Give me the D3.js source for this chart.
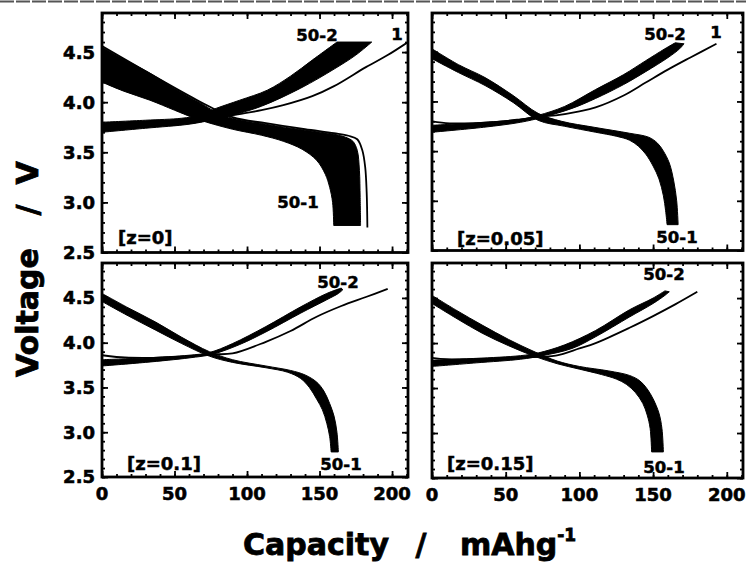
<!DOCTYPE html>
<html><head><meta charset="utf-8">
<script src="https://cdn.jsdelivr.net/npm/d3@7"></script>
<style>body{margin:0;background:#fff}svg{display:block}</style>
</head><body><svg id="c" width="746" height="571"></svg>
<script>
// ---------- tick values & labels ----------
const capacityTicks = [0, 50, 100, 150, 200];
const voltageTicks = [2.5, 3.0, 3.5, 4.0, 4.5];
const capacityMinor = d3.range(0, 211, 10);
const voltageMinor = d3.range(25, 49).map(d => d / 10);
const zLabels = ["[z=0]", "[z=0.05]", "[z=0.1]", "[z=0.15]"];
const cycleLabels = ["50-2", "50-1", "1"];

// ---------- z = 0 ----------  [capacity mAh/g, voltage V]
const z0_dis_c2 = [[0,4.55],[15,4.43],[33,4.29],[50,4.14],[67,4.00],[80,3.89],[90,3.84],[113,3.78],[140,3.72],[160,3.68],[168,3.65],[173,3.61],[176,3.52],[177.5,3.32],[178,3.05],[178.3,2.77]];
const z0_dis_c50 = [[0,4.20],[15,4.11],[33,4.02],[50,3.92],[62,3.85],[70,3.81],[90,3.73],[110,3.67],[125,3.61],[138,3.53],[148,3.42],[154,3.28],[157,3.15],[159,3.00],[159.8,2.77]];
const z0_dis_c1 = [[0,4.56],[67,4.01],[90,3.85],[113,3.79],[140,3.73],[160,3.69],[170,3.665],[176,3.63],[179.5,3.52],[181.5,3.35],[182.5,3.10],[183,2.75]];
const z0_chg_c50 = [[0,3.80],[30,3.82],[55,3.84],[67,3.87],[79,3.94],[95,4.02],[114,4.12],[130,4.26],[145,4.42],[162,4.60]];
const z0_chg_c2 = [[0,3.70],[30,3.74],[60,3.78],[75,3.82],[90,3.87],[110,3.96],[137,4.14],[160,4.33],[175,4.47],[186,4.60]];
const z0_chg_c1 = [[0,3.74],[60,3.79],[90,3.87],[110,3.92],[125,3.97],[145,4.06],[160,4.16],[182,4.35],[197,4.47],[211,4.60]];

// ---------- z = 0.05 ----------
const z05_dis_c2 = [[0,4.53],[18,4.37],[36,4.24],[55,4.06],[72,3.88],[88,3.80],[110,3.74],[134,3.68],[147,3.64],[153,3.58],[157,3.50],[161,3.38],[164,3.20],[166,3.00],[167,2.76]];
const z05_dis_c50 = [[0,4.43],[18,4.29],[36,4.16],[55,3.99],[72,3.81],[90,3.75],[111,3.69],[125,3.65],[134,3.61],[140,3.55],[145,3.47],[150,3.35],[154,3.22],[157,3.05],[158.5,2.90],[159.5,2.76]];
const z05_dis_c1 = [];
const z05_chg_c50 = [[0,3.76],[35,3.79],[60,3.82],[72,3.86],[90,3.95],[111,4.12],[130,4.27],[145,4.41],[158,4.53],[165,4.59]];
const z05_chg_c2 = [[0,3.69],[35,3.74],[60,3.79],[75,3.84],[95,3.93],[111,4.03],[130,4.17],[145,4.30],[160,4.44],[168,4.53],[171,4.58]];
const z05_chg_c1 = [[0,3.80],[12,3.78],[40,3.79],[60,3.82],[75,3.85],[84,3.86],[100,3.90],[111,3.94],[130,4.06],[145,4.19],[160,4.32],[175,4.44],[193,4.58]];

// ---------- z = 0.1 ----------
const z10_dis_c2 = [[0,4.55],[18,4.39],[37,4.23],[55,4.06],[74,3.90],[90,3.81],[113,3.74],[130,3.69],[140,3.64],[148,3.56],[153,3.46],[157,3.32],[160,3.18],[162,3.00],[163,2.78]];
const z10_dis_c50 = [[0,4.46],[18,4.30],[37,4.14],[55,3.99],[74,3.85],[90,3.78],[113,3.72],[128,3.67],[137,3.60],[143,3.50],[148,3.37],[152,3.25],[155,3.10],[157,2.95],[158,2.78]];
const z10_dis_c1 = [];
const z10_chg_c50 = [[0,3.81],[30,3.83],[60,3.86],[74,3.89],[90,3.99],[113,4.18],[137,4.40],[155,4.55],[165,4.61]];
const z10_chg_c2 = [[0,3.74],[30,3.78],[60,3.83],[76,3.87],[95,3.98],[113,4.12],[137,4.33],[155,4.48],[163,4.55],[166,4.59]];
const z10_chg_c1 = [[0,3.86],[10,3.84],[30,3.83],[60,3.85],[76,3.87],[90,3.88],[113,4.01],[130,4.13],[148,4.29],[165,4.41],[182,4.51],[197,4.60]];

// ---------- z = 0.15 ----------
const z15_dis_c2 = [[0,4.53],[17,4.36],[34,4.20],[52,4.04],[70,3.90],[85,3.80],[100,3.74],[120,3.69],[134,3.64],[141,3.58],[146,3.49],[150,3.38],[154,3.22],[156,3.05],[157,2.79]];
const z15_dis_c50 = [[0,4.44],[17,4.27],[34,4.11],[52,3.97],[70,3.85],[85,3.77],[100,3.71],[115,3.65],[125,3.60],[132,3.54],[138,3.45],[143,3.33],[146,3.20],[148,3.05],[149,2.79]];
const z15_dis_c1 = [];
const z15_chg_c50 = [[0,3.81],[30,3.83],[60,3.86],[72,3.89],[90,3.98],[111,4.14],[134,4.37],[150,4.50],[158,4.58]];
const z15_chg_c2 = [[0,3.74],[30,3.78],[60,3.82],[75,3.86],[95,3.94],[111,4.07],[134,4.29],[150,4.44],[158,4.53],[161,4.57]];
const z15_chg_c1 = [[0,3.835],[10,3.82],[30,3.82],[60,3.84],[84,3.86],[100,3.94],[111,4.00],[134,4.17],[150,4.30],[165,4.43],[180,4.57]];

// ---------- layout ----------
const FONT = "'DejaVu Sans', sans-serif";
const svg = d3.select("#c");
const capDomain = [0, 211];
const voltDomain = [2.5, 4.89];

const panels = [
  {z: zLabels[0], box: [102, 408, 13, 252.5], disA: z0_dis_c2, disB: z0_dis_c50, dis1: z0_dis_c1, chgA: z0_chg_c50, chgB: z0_chg_c2, chg1: z0_chg_c1,
   yLab: true, xLab: false, lab502: [215, 28], lab501: [196, 195], lab1: [295, 27], labZ: [16, 231]},
  {z: zLabels[1], box: [432, 743, 13, 250.5], disA: z05_dis_c2, disB: z05_dis_c50, dis1: z05_dis_c1, chgA: z05_chg_c50, chgB: z05_chg_c2, chg1: z05_chg_c1,
   yLab: false, xLab: false, lab502: [233, 27], lab501: [245, 230], lab1: [284, 25], labZ: [25, 232]},
  {z: zLabels[2], box: [102, 408, 263, 477], disA: z10_dis_c2, disB: z10_dis_c50, dis1: z10_dis_c1, chgA: z10_chg_c50, chgB: z10_chg_c2, chg1: z10_chg_c1,
   yLab: true, xLab: true, lab502: [236, 25], lab501: [239, 207], lab1: null, labZ: [25, 207]},
  {z: zLabels[3], box: [432, 743, 263, 478], disA: z15_dis_c2, disB: z15_dis_c50, dis1: z15_dis_c1, chgA: z15_chg_c50, chgB: z15_chg_c2, chg1: z15_chg_c1,
   yLab: false, xLab: true, lab502: [232, 17], lab501: [232, 210], lab1: null, labZ: [15, 207]}
];

// scan artefact line at the very top
svg.append("line").attr("x1", 0).attr("x2", 746).attr("y1", 1.5).attr("y2", 1.5)
  .attr("stroke", "#555").attr("stroke-width", 2).attr("stroke-dasharray", "14,2");

panels.forEach((p, i) => {
  const [L, R, T, B] = p.box;
  const x = d3.scaleLinear().domain(capDomain).range([L, R]);
  const y = d3.scaleLinear().domain(voltDomain).range([B, T]);
  const g = svg.append("g");
  const clipId = "clip" + i;
  g.append("clipPath").attr("id", clipId).append("rect")
    .attr("x", L).attr("y", T).attr("width", R - L).attr("height", B - T);
  const plot = g.append("g").attr("clip-path", `url(#${clipId})`);
  const line = d3.line().x(d => x(d[0])).y(d => y(d[1])).curve(d3.curveCatmullRom.alpha(0.5));
  const band = (a, b) => line(a) + "L" + line(b.slice().reverse()).slice(1) + "Z";

  // first-cycle thin lines (drawn under the bands)
  [p.chg1, p.dis1].forEach(c => {
    if (c.length) plot.append("path").attr("d", line(c)).attr("fill", "none")
      .attr("stroke", "#000").attr("stroke-width", 1.8);
  });
  // bands of cycles 2..50
  plot.append("path").attr("d", band(p.chgA, p.chgB)).attr("fill", "#000").attr("stroke", "#000").attr("stroke-width", 1);
  plot.append("path").attr("d", band(p.disA, p.disB)).attr("fill", "#000").attr("stroke", "#000").attr("stroke-width", 1);

  // ticks (inward, all four sides)
  const mk = (axis, vals, size, tr) => {
    const a = g.append("g").attr("transform", tr)
      .call(axis.tickValues(vals).tickSize(-size).tickFormat(""));
    a.select(".domain").remove();
    a.selectAll("line").attr("stroke", "#000").attr("stroke-width", 1.8);
  };
  mk(d3.axisBottom(x), capacityMinor, 3, `translate(0,${B})`);
  mk(d3.axisTop(x), capacityMinor, 3, `translate(0,${T})`);
  mk(d3.axisLeft(y), voltageMinor, 3, `translate(${L},0)`);
  mk(d3.axisRight(y), voltageMinor, 3, `translate(${R},0)`);
  mk(d3.axisBottom(x), capacityTicks, 6, `translate(0,${B})`);
  mk(d3.axisTop(x), capacityTicks, 6, `translate(0,${T})`);
  mk(d3.axisLeft(y), voltageTicks, 6, `translate(${L},0)`);
  mk(d3.axisRight(y), voltageTicks, 6, `translate(${R},0)`);

  // frame
  g.append("rect").attr("x", L).attr("y", T).attr("width", R - L).attr("height", B - T)
    .attr("fill", "none").attr("stroke", "#000").attr("stroke-width", 2.8);

  // tick labels
  if (p.yLab) {
    g.selectAll(null).data(voltageTicks).join("text")
      .attr("x", L - 7).attr("y", d => y(d)).attr("dy", "0.36em")
      .attr("text-anchor", "end").attr("font-family", FONT).attr("font-weight", "bold")
      .attr("font-size", 18).attr("stroke", "#000").attr("stroke-width", 0.6).text(d3.format(".1f"));
  }
  if (p.xLab) {
    g.selectAll(null).data(capacityTicks).join("text")
      .attr("x", d => x(d)).attr("y", B + 23)
      .attr("text-anchor", "middle").attr("font-family", FONT).attr("font-weight", "bold")
      .attr("font-size", 18).attr("stroke", "#000").attr("stroke-width", 0.6).text(d => d);
  }

  // in-panel labels
  const txt = (pos, s, anchor, size) => g.append("text").attr("x", L + pos[0]).attr("y", T + pos[1])
    .attr("text-anchor", anchor).attr("font-family", FONT).attr("font-weight", "bold")
    .attr("font-size", size).attr("stroke", "#000").attr("stroke-width", 0.5).text(s);
  txt(p.lab502, cycleLabels[0], "middle", 16.5);
  txt(p.lab501, cycleLabels[1], "middle", 16.5);
  if (p.lab1) txt(p.lab1, cycleLabels[2], "middle", 16.5);
  txt(p.labZ, p.z, "start", 18);
});

// axis titles
const yT = svg.append("g").attr("font-family", FONT).attr("font-weight", "bold").attr("font-size", 30)
  .attr("stroke", "#000").attr("stroke-width", 0.8);
yT.append("text").attr("transform", "translate(38,377) rotate(-90)").attr("text-anchor", "start").text("Voltage");
yT.append("text").attr("transform", "translate(38,210) rotate(-90)").attr("text-anchor", "middle").text("/");
yT.append("text").attr("transform", "translate(38,173) rotate(-90)").attr("text-anchor", "middle").text("V");

const xT = svg.append("g").attr("font-family", FONT).attr("font-weight", "bold").attr("font-size", 30)
  .attr("stroke", "#000").attr("stroke-width", 0.8);
xT.append("text").attr("x", 243).attr("y", 555).text("Capacity");
xT.append("text").attr("x", 421).attr("y", 555).attr("text-anchor", "middle").text("/");
const mt = xT.append("text").attr("x", 460).attr("y", 555);
mt.append("tspan").text("mAhg");
mt.append("tspan").attr("font-size", 17).attr("dy", -14).text("-1");
</script>
</body></html>
